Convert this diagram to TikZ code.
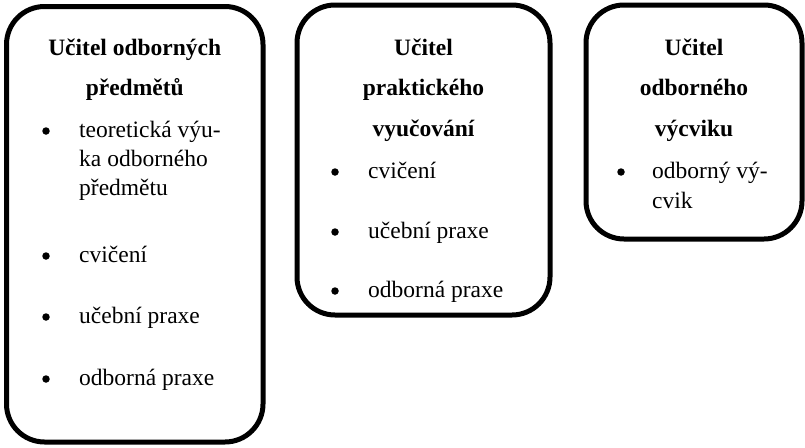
\documentclass[tikz,border=0pt]{standalone}
\usepackage{fontspec}
\setmainfont{Liberation Serif}
\begin{document}
\begin{tikzpicture}[x=1pt,y=-1pt,
  panel/.style={draw, rectangle, line width=5pt, rounded corners=38pt, inner sep=0pt},
  head/.style={font=\fontsize{23.5}{28}\selectfont\bfseries, anchor=base, inner sep=0pt},
  item/.style={font=\fontsize{23.5}{28}\selectfont, anchor=base west, inner sep=0pt},
  dot/.style={circle, fill, inner sep=0pt, minimum size=7.5pt}]
\useasboundingbox (0,0) rectangle (805,447);

% the three panels
\node[panel, minimum width=256.5pt, minimum height=435.5pt] (p1) at (134.75,224.25) {};
\node[panel, minimum width=253pt, minimum height=310pt] (p2) at (423.5,160) {};
\node[panel, minimum width=216pt, minimum height=234pt] (p3) at (694,122) {};

% panel 1: teacher of vocational subjects
\node[head] (h1a) at (134.75,55) {Učitel odborných};
\node[head] (h1b) at (134.75,95.5) {předmětů};
\node[dot] (d1a) at (46,131) {};
\node[item] (i1a) at (79,137) {teoretická výu-};
\node[item] (i1b) at (79,166) {ka odborného};
\node[item] (i1c) at (79,195) {předmětu};
\node[dot] (d1b) at (46,256) {};
\node[item] (i1d) at (79,262) {cvičení};
\node[dot] (d1c) at (46,317) {};
\node[item] (i1e) at (79,323) {učební praxe};
\node[dot] (d1d) at (46,379) {};
\node[item] (i1f) at (79,385) {odborná praxe};

% panel 2: teacher of practical training
\node[head] (h2a) at (423.5,55) {Učitel};
\node[head] (h2b) at (423.5,95.5) {praktického};
\node[head] (h2c) at (423.5,136) {vyučování};
\node[dot] (d2a) at (335,172) {};
\node[item] (i2a) at (368,178) {cvičení};
\node[dot] (d2b) at (335,232) {};
\node[item] (i2b) at (368,238) {učební praxe};
\node[dot] (d2c) at (335,291) {};
\node[item] (i2c) at (368,297) {odborná praxe};

% panel 3: teacher of vocational training
\node[head] (h3a) at (694,55) {Učitel};
\node[head] (h3b) at (694,95.5) {odborného};
\node[head] (h3c) at (694,136) {výcviku};
\node[dot] (d3a) at (621,172) {};
\node[item] (i3a) at (652,178) {odborný vý-};
\node[item] (i3b) at (652,208) {cvik};
\end{tikzpicture}
\end{document}
